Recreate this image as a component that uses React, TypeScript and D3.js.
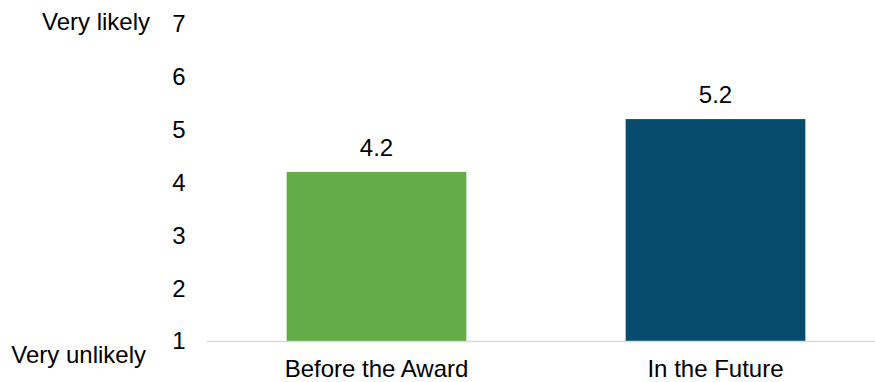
import React from "react";
import * as d3 from "d3";

const categories = ["Before the Award", "In the Future"];
const values = [4.2, 5.2];
const colors = ["#62AB47", "#074B6D"];
const yTicks = [1, 2, 3, 4, 5, 6, 7];
const yLowLabel = "Very unlikely";
const yHighLabel = "Very likely";

const W = 875;
const H = 382;
const FONT = "'Liberation Sans', Arial, sans-serif";

export default function App() {
  const y = d3.scaleLinear().domain([1, 7]).range([341, 24]);
  const x = d3.scaleBand<string>().domain(categories).range([207, 885]).paddingInner(0.47).paddingOuter(0.235);
  const fs = 24;
  return (
    <svg width={W} height={H} style={{ position: "absolute", left: 0, top: 0 }} fontFamily={FONT}>
      <rect width={W} height={H} fill="#fff" />
      {categories.map((c, i) => (
        <rect key={c} x={x(c)} y={y(values[i])} width={x.bandwidth()} height={y(1) - y(values[i])} fill={colors[i]} />
      ))}
      <line x1={207} x2={W} y1={y(1) + 0.5} y2={y(1) + 0.5} stroke="#D9D9D9" strokeWidth={1.5} />
      {yTicks.map((t) => (
        <text key={t} x={185.5} y={y(t)} dy="0.35em" textAnchor="end" fontSize={fs} fill="#000">
          {t}
        </text>
      ))}
      <text x={150} y={y(7) - 2} dy="0.35em" textAnchor="end" fontSize={fs} fill="#000">{yHighLabel}</text>
      <text x={146} y={y(1) + 14} dy="0.35em" textAnchor="end" fontSize={fs} fill="#000">{yLowLabel}</text>
      {categories.map((c, i) => (
        <text key={c + "v"} x={(x(c) as number) + x.bandwidth() / 2} y={y(values[i]) - 16} textAnchor="middle" fontSize={fs} fill="#000">
          {values[i].toFixed(1)}
        </text>
      ))}
      {categories.map((c) => (
        <text key={c + "l"} x={(x(c) as number) + x.bandwidth() / 2} y={376.5} textAnchor="middle" fontSize={fs} fill="#000">
          {c}
        </text>
      ))}
    </svg>
  );
}
